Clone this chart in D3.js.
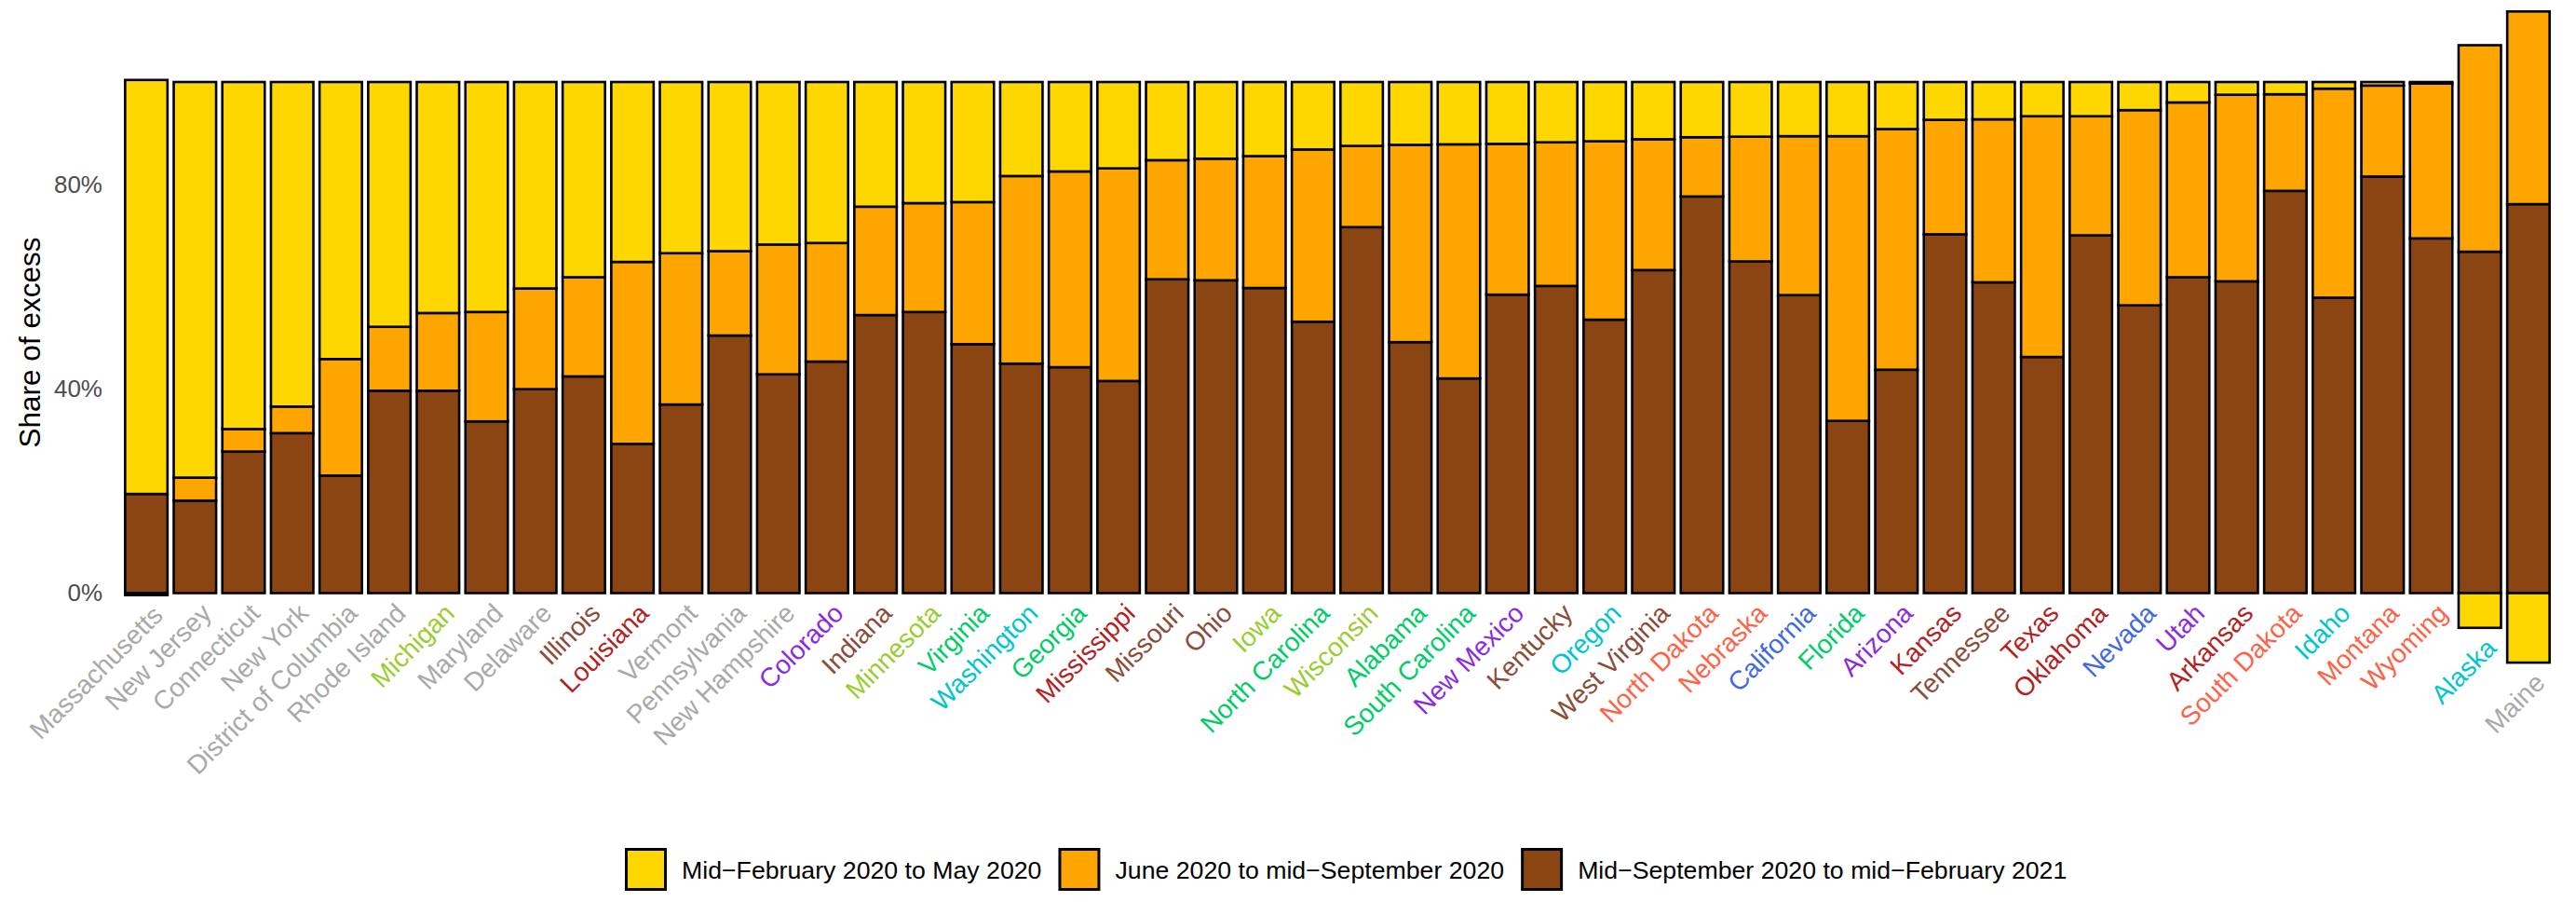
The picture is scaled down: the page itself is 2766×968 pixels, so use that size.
<!DOCTYPE html>
<html><head><meta charset="utf-8">
<script src="https://cdn.jsdelivr.net/npm/d3@7"></script>
<style>
body{margin:0;background:#fff}
svg{display:block}
text{font-family:"Liberation Sans",Arial,Helvetica,sans-serif}
</style>
</head><body>
<svg id="chart" width="2766" height="968"></svg>
<script>
// ---------- data ----------
const states = ["Massachusetts","New Jersey","Connecticut","New York","District of Columbia","Rhode Island","Michigan","Maryland","Delaware","Illinois","Louisiana","Vermont","Pennsylvania","New Hampshire","Colorado","Indiana","Minnesota","Virginia","Washington","Georgia","Mississippi","Missouri","Ohio","Iowa","North Carolina","Wisconsin","Alabama","South Carolina","New Mexico","Kentucky","Oregon","West Virginia","North Dakota","Nebraska","California","Florida","Arizona","Kansas","Tennessee","Texas","Oklahoma","Nevada","Utah","Arkansas","South Dakota","Idaho","Montana","Wyoming","Alaska","Maine"];

const labelColors = ["#A9A9A9","#A9A9A9","#A9A9A9","#A9A9A9","#A9A9A9","#A9A9A9","#9ACD32","#A9A9A9","#A9A9A9","#8B4C39","#B22222","#A9A9A9","#A9A9A9","#A9A9A9","#8A2BE2","#8B4C39","#9ACD32","#00CD66","#00C5CD","#00CD66","#B22222","#8B4C39","#8B4C39","#9ACD32","#00CD66","#9ACD32","#00CD66","#00CD66","#8A2BE2","#8B4C39","#00C5CD","#8B4C39","#FF6347","#FF6347","#4169E1","#00CD66","#8A2BE2","#B22222","#8B4C39","#B22222","#B22222","#4169E1","#8A2BE2","#B22222","#FF6347","#00C5CD","#FF6347","#FF6347","#00C5CD","#A9A9A9"];

// share of excess deaths (%), by period
const earlyShare  = [81.0,77.4,67.9,63.5,54.2,47.9,45.2,45.0,40.4,38.2,35.2,33.5,33.1,31.8,31.5,24.4,23.7,23.5,18.4,17.5,16.9,15.3,15.0,14.5,13.2,12.5,12.3,12.2,12.1,11.8,11.6,11.2,10.8,10.7,10.6,10.6,9.2,7.4,7.3,6.7,6.7,5.5,4.0,2.5,2.4,1.3,0.7,0.3,-6.8,-13.6];
const summerShare = [-0.4,4.5,4.4,5.2,22.8,12.5,15.2,21.4,19.7,19.4,35.6,29.6,16.5,25.4,23.2,21.2,21.3,27.8,36.7,38.3,41.6,23.3,23.8,25.8,33.7,15.9,38.6,45.8,29.5,28.1,34.9,25.6,11.6,24.4,31.1,55.7,47.1,22.4,31.9,47.1,23.3,38.2,34.2,36.5,18.9,40.9,17.8,30.3,40.4,37.7];
const fallShare   = [19.4,18.1,27.7,31.3,23.0,39.6,39.6,33.6,39.9,42.4,29.2,36.9,50.4,42.8,45.3,54.4,55.0,48.7,44.9,44.2,41.5,61.4,61.2,59.7,53.1,71.6,49.1,42.0,58.4,60.1,53.5,63.2,77.6,64.9,58.3,33.7,43.7,70.2,60.8,46.2,70.0,56.3,61.8,61.0,78.7,57.8,81.5,69.4,66.8,76.1];

const seriesKeys   = ["fall","summer","early"]; // stacking order, bottom to top
const legendKeys   = ["early","summer","fall"];
const seriesLabels = {early:"Mid\u2212February 2020 to May 2020", summer:"June 2020 to mid\u2212September 2020", fall:"Mid\u2212September 2020 to mid\u2212February 2021"};
const seriesColors = {early:"#FFD700", summer:"#FFA500", fall:"#8B4513"};
const yTicks = [0, 0.4, 0.8];
const yTitle = "Share of excess";

// ---------- chart ----------
const svg = d3.select("#chart");
const rows = states.map((s,i)=>({state:s, early:earlyShare[i]/100, summer:summerShare[i]/100, fall:fallShare[i]/100}));
const stacked = d3.stack().keys(seriesKeys).offset(d3.stackOffsetDiverging)(rows);

const x = d3.scaleBand().domain(states).range([131, 2741]).paddingInner(0.128).paddingOuter(0.064);
const y = d3.scaleLinear().domain([0, 1]).range([636.5, 88]);

// bars
svg.append("g").selectAll("g").data(stacked).join("g")
  .attr("fill", d => seriesColors[d.key])
  .selectAll("rect").data(d => d).join("rect")
  .attr("x", d => x(d.data.state))
  .attr("width", x.bandwidth())
  .attr("y", d => y(Math.max(d[0], d[1])))
  .attr("height", d => Math.abs(y(d[0]) - y(d[1])))
  .attr("stroke", "#000")
  .attr("stroke-width", 2.6);

// y axis
const yAxis = d3.axisLeft(y).tickValues(yTicks).tickFormat(d3.format(".0%")).tickSize(0).tickPadding(11);
const gy = svg.append("g").attr("transform","translate(121,0)").call(yAxis);
gy.select(".domain").remove();
gy.selectAll("text").attr("font-size", 26).attr("fill", "#4D4D4D").attr("font-family", "Liberation Sans, Arial, sans-serif");

svg.append("text")
  .attr("transform", "translate(32,367.5) rotate(-90)")
  .attr("text-anchor","middle").attr("dominant-baseline","central")
  .attr("font-size", 31.5).attr("fill","#000").text(yTitle);

// state labels, placed under each bar's lowest point
const lowest = states.map((s,i) => d3.min(stacked, ser => Math.min(0, ser[i][0], ser[i][1])));
svg.append("g").selectAll("text").data(states).join("text")
  .attr("transform", (s,i) => `translate(${x(s) + x.bandwidth()/2 + 5},${y(lowest[i]) + 9}) rotate(-45)`)
  .attr("text-anchor","end")
  .attr("dy","0.72em")
  .attr("font-size", 28.2)
  .attr("fill", (s,i) => labelColors[i])
  .text(s => s);

// legend
const lg = svg.append("g");
let lx = 671;
legendKeys.forEach(k => {
  lg.append("rect").attr("x", lx + 1.5).attr("y", 911.5).attr("width", 42).attr("height", 43)
    .attr("fill", seriesColors[k]).attr("stroke","#000").attr("stroke-width",3);
  const t = lg.append("text").attr("x", lx + 61).attr("y", 934).attr("dominant-baseline","central")
    .attr("font-size", 26.7).attr("fill","#000").text(seriesLabels[k]);
  lx += 61 + t.node().getComputedTextLength() + 18;
});
</script>
</body></html>
